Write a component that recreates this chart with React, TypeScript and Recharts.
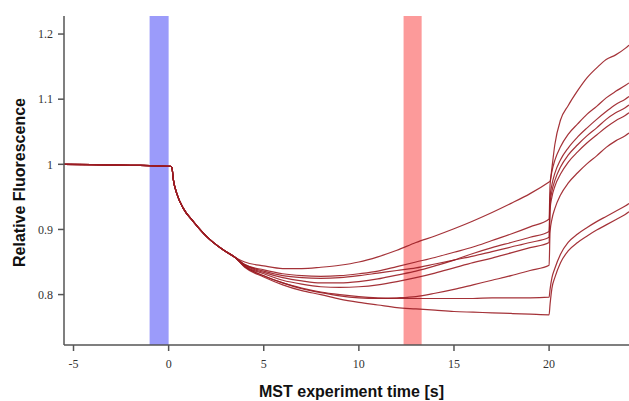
import React from 'react';
import { LineChart, Line, XAxis, YAxis, ReferenceArea } from 'recharts';

// time grid [s]
const TIME = [
  -5.5, -4, -2, -1, 0, 0.1, 0.17, 0.25, 0.43, 0.78, 1.3, 2, 2.9, 3.5,
  4, 5, 6, 7, 8, 9, 10, 11, 12, 13, 14, 15, 16, 17, 18, 19, 20,
  20.05, 20.15, 20.3, 20.6, 21, 21.5, 22, 22.5, 23, 23.5, 24, 24.2,
];

// shared part of every trace (t <= 3.5 s)
const TRUNK = [1.0, 0.9995, 0.9985, 0.998, 0.997, 0.997, 0.995, 0.976, 0.955, 0.932, 0.912, 0.889, 0.868, 0.857];

// t = 4 .. 20 s (IR laser on)
const MID_1 = [0.85, 0.844, 0.84, 0.84, 0.842, 0.845, 0.85, 0.858, 0.868, 0.88, 0.89, 0.901, 0.913, 0.926, 0.94, 0.955, 0.973];
const MID_2 = [0.846, 0.838, 0.832, 0.829, 0.828, 0.829, 0.832, 0.836, 0.843, 0.85, 0.857, 0.865, 0.873, 0.883, 0.893, 0.904, 0.916];
const MID_3 = [0.845, 0.834, 0.826, 0.821, 0.818, 0.818, 0.82, 0.824, 0.83, 0.836, 0.844, 0.853, 0.863, 0.872, 0.88, 0.888, 0.897];
const MID_4 = [0.846, 0.836, 0.829, 0.826, 0.825, 0.826, 0.829, 0.833, 0.837, 0.841, 0.847, 0.853, 0.859, 0.866, 0.873, 0.88, 0.888];
const MID_5 = [0.844, 0.832, 0.822, 0.816, 0.812, 0.811, 0.812, 0.815, 0.82, 0.826, 0.833, 0.841, 0.849, 0.856, 0.864, 0.872, 0.88];
const MID_6 = [0.843, 0.829, 0.818, 0.809, 0.803, 0.798, 0.795, 0.794, 0.795, 0.797, 0.802, 0.808, 0.815, 0.822, 0.829, 0.837, 0.845];
const MID_7 = [0.843, 0.829, 0.818, 0.81, 0.804, 0.8, 0.797, 0.795, 0.794, 0.794, 0.794, 0.794, 0.794, 0.795, 0.795, 0.795, 0.796];
const MID_8 = [0.842, 0.827, 0.815, 0.806, 0.8, 0.793, 0.788, 0.784, 0.78, 0.778, 0.776, 0.774, 0.773, 0.772, 0.771, 0.77, 0.769];

// t = 20.05 .. 24.2 s (back-diffusion)
const POST_1 = [0.974, 0.995, 1.03, 1.068, 1.09, 1.113, 1.133, 1.148, 1.161, 1.168, 1.178, 1.183];
const POST_2 = [0.968, 0.989, 1.006, 1.027, 1.046, 1.062, 1.077, 1.089, 1.102, 1.112, 1.121, 1.125];
const POST_3 = [0.949, 0.969, 0.986, 1.007, 1.025, 1.042, 1.056, 1.069, 1.081, 1.092, 1.1, 1.104];
const POST_4 = [0.939, 0.959, 0.975, 0.996, 1.014, 1.03, 1.044, 1.056, 1.069, 1.079, 1.087, 1.091];
const POST_5 = [0.93, 0.95, 0.966, 0.985, 1.003, 1.019, 1.033, 1.045, 1.057, 1.067, 1.075, 1.079];
const POST_6 = [0.896, 0.916, 0.932, 0.953, 0.971, 0.987, 1.001, 1.013, 1.026, 1.036, 1.044, 1.048];
const POST_7 = [0.808, 0.826, 0.84, 0.862, 0.88, 0.893, 0.903, 0.912, 0.92, 0.928, 0.936, 0.94];
const POST_8 = [0.785, 0.81, 0.826, 0.849, 0.867, 0.88, 0.89, 0.899, 0.907, 0.915, 0.923, 0.927];

const X_TICKS = [-5, 0, 5, 10, 15, 20];
const Y_TICKS = [0.8, 0.9, 1, 1.1, 1.2];

const COLD_REGION = [-1, 0];
const HOT_REGION = [12.35, 13.3];

const SERIES = [
  [...TRUNK, ...MID_1, ...POST_1],
  [...TRUNK, ...MID_2, ...POST_2],
  [...TRUNK, ...MID_3, ...POST_3],
  [...TRUNK, ...MID_4, ...POST_4],
  [...TRUNK, ...MID_5, ...POST_5],
  [...TRUNK, ...MID_6, ...POST_6],
  [...TRUNK, ...MID_7, ...POST_7],
  [...TRUNK, ...MID_8, ...POST_8],
];

const data = TIME.map((t, i) => {
  const row: Record<string, number> = { t };
  SERIES.forEach((s, k) => {
    row['s' + (k + 1)] = s[i];
  });
  return row;
});

const tickStyle = { fill: '#333', fontSize: 12, fontFamily: '"Liberation Serif", serif' };
const labelStyle = { fill: '#111', fontSize: 16, fontWeight: 700, fontFamily: '"Liberation Sans", Arial, sans-serif', textAnchor: 'middle' as const };

export default function App() {
  return (
    <div style={{ position: 'absolute', left: 0, top: 0, background: '#fff' }}>
      <LineChart width={629} height={401} data={data} margin={{ top: 16, right: 0, bottom: 0, left: 0 }}>
        <XAxis
          dataKey="t"
          type="number"
          domain={[-5.5, 24.2]}
          ticks={X_TICKS}
          allowDataOverflow
          height={56}
          tickSize={6}
          tickMargin={8}
          axisLine={{ stroke: '#555', strokeWidth: 1.5 }}
          tickLine={{ stroke: '#555', strokeWidth: 1.5 }}
          tick={tickStyle}
          label={{ value: 'MST experiment time [s]', position: 'insideBottom', offset: 4, dx: 5, style: labelStyle }}
        />
        <YAxis
          type="number"
          domain={[0.7226, 1.2277]}
          ticks={Y_TICKS}
          allowDataOverflow
          width={64}
          tickSize={6}
          tickMargin={5}
          tickFormatter={(v: number) => String(v)}
          axisLine={{ stroke: '#555', strokeWidth: 1.5 }}
          tickLine={{ stroke: '#555', strokeWidth: 1.5 }}
          tick={tickStyle}
          label={{ value: 'Relative Fluorescence', angle: -90, position: 'insideLeft', offset: 19, dy: 2, style: labelStyle }}
        />
        <ReferenceArea x1={COLD_REGION[0]} x2={COLD_REGION[1]} fill="#9b9bfa" fillOpacity={1} stroke="none" />
        <ReferenceArea x1={HOT_REGION[0]} x2={HOT_REGION[1]} fill="#fc9a9a" fillOpacity={1} stroke="none" />
        {SERIES.map((_, k) => (
          <Line
            key={k}
            dataKey={'s' + (k + 1)}
            type="monotone"
            stroke="#9a1c22"
            strokeWidth={1.2}
            strokeOpacity={0.9}
            dot={false}
            activeDot={false}
            isAnimationActive={false}
          />
        ))}
      </LineChart>
    </div>
  );
}
